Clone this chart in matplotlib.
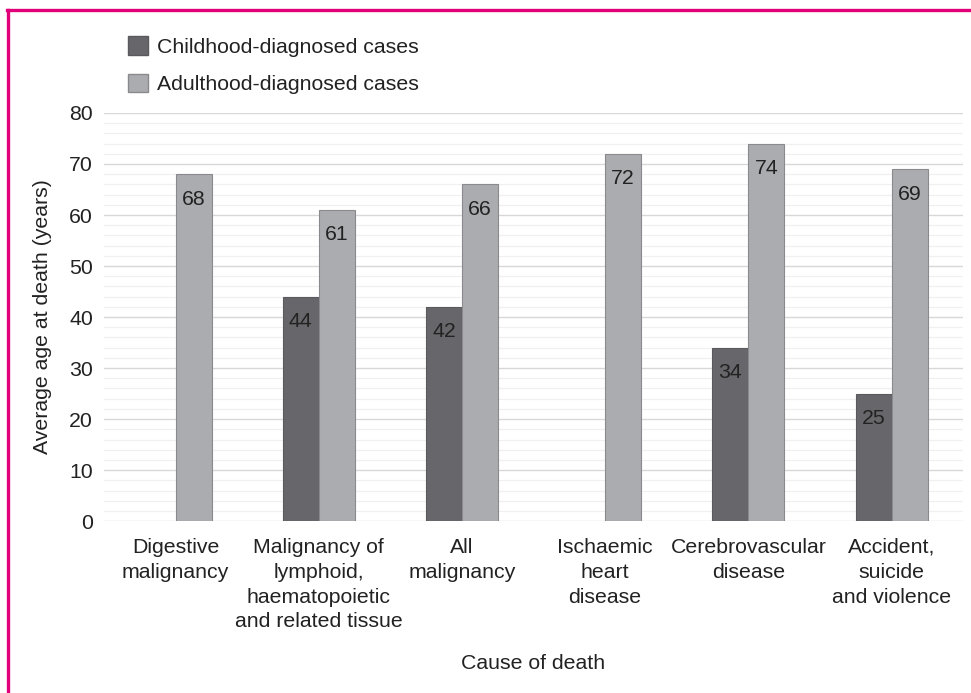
import numpy as np
import matplotlib.pyplot as plt
from matplotlib.lines import Line2D
from matplotlib.patches import Patch

plt.rcParams['font.family'] = ['Liberation Sans', 'DejaVu Sans']

categories = ['Digestive\nmalignancy',
              'Malignancy of\nlymphoid,\nhaematopoietic\nand related tissue',
              'All\nmalignancy',
              'Ischaemic\nheart\ndisease',
              'Cerebrovascular\ndisease',
              'Accident,\nsuicide\nand violence']
childhood = [np.nan, 44, 42, np.nan, 34, 25]
adulthood = [68, 61, 66, 72, 74, 69]
series_names = ['Childhood-diagnosed cases', 'Adulthood-diagnosed cases']
dark = '#67676b'
light = '#abacb0'
fs = 15.3

fig = plt.figure(figsize=(9.71, 6.93), dpi=100)
ax = fig.add_axes([0.107, 0.248, 0.885, 0.589])

x = np.arange(len(categories))
w = 0.252
b1 = ax.bar(x - w / 2, childhood, w, color=dark, edgecolor='#5a5a5e', linewidth=0.8, zorder=3)
b2 = ax.bar(x + w / 2, adulthood, w, color=light, edgecolor='#8a8a8e', linewidth=0.8, zorder=3)

for bars, vals in [(b1, childhood), (b2, adulthood)]:
    for r, v in zip(bars, vals):
        if np.isnan(v):
            continue
        ax.annotate(f'{v:g}', (r.get_x() + r.get_width() / 2, v), xytext=(0, -18),
                    textcoords='offset points', ha='center', va='center',
                    fontsize=fs, color='#222222', zorder=4)

ax.set_xlim(-0.5, len(categories) - 0.5)
ax.set_ylim(0, 80)
ax.set_yticks(np.arange(0, 81, 10))
ax.set_yticks(np.arange(0, 81, 2), minor=True)
ax.grid(axis='y', which='major', color='#d8d8d8', linewidth=1.0, zorder=0)
ax.grid(axis='y', which='minor', color='#f0f0f0', linewidth=0.9, zorder=0)
ax.set_xticks(x)
ax.set_xticklabels(categories, fontsize=fs, linespacing=1.39, color='#222222')
ax.tick_params(axis='both', which='both', length=0, labelsize=fs, colors='#222222')
ax.tick_params(axis='x', pad=12)
ax.tick_params(axis='y', pad=8)
for s in ax.spines.values():
    s.set_visible(False)

ax.set_ylabel('Average age at death (years)', fontsize=fs, color='#222222', labelpad=12)
fig.text(0.549, 0.043, 'Cause of death', ha='center', va='center', fontsize=fs, color='#222222')

handles = [Patch(facecolor=dark, edgecolor='#5a5a5e'), Patch(facecolor=light, edgecolor='#8a8a8e')]
fig.legend(handles, series_names, loc='upper left', bbox_to_anchor=(0.112, 0.975),
           frameon=False, fontsize=fs, handlelength=0.93, handleheight=0.93,
           handletextpad=0.45, labelspacing=0.8, labelcolor='#222222')

# magenta frame
border = '#e2007a'
fig.add_artist(Line2D([0.007, 1.0], [0.9855, 0.9855], color=border, linewidth=2.4))
fig.add_artist(Line2D([0.0082, 0.0082], [0.0, 0.9855], color=border, linewidth=2.4))

fig.savefig('out.png', dpi=100)
